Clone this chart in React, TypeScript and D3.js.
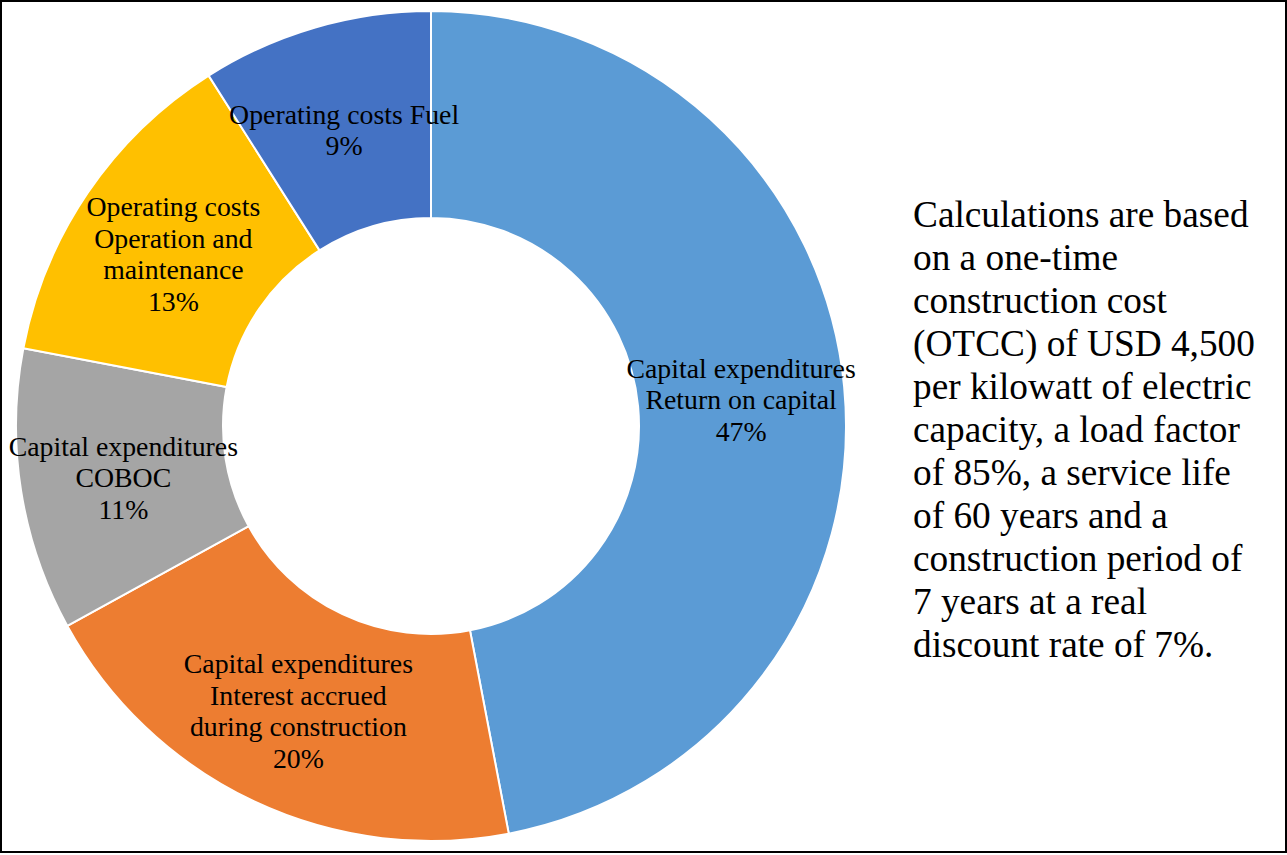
import React from "react";
import * as d3 from "d3";

const categories: string[][] = [
  ["Capital expenditures", "Return on capital"],
  ["Capital expenditures", "Interest accrued", "during construction"],
  ["Capital expenditures", "COBOC"],
  ["Operating costs", "Operation and", "maintenance"],
  ["Operating costs Fuel"],
];
const values: number[] = [47, 20, 11, 13, 9];
const colors: string[] = ["#5B9BD5", "#ED7D31", "#A5A5A5", "#FFC000", "#4472C4"];
const noteLines: string[] = [
  "Calculations are based",
  "on a one-time",
  "construction cost",
  "(OTCC) of USD 4,500",
  "per kilowatt of electric",
  "capacity, a load factor",
  "of 85%, a service life",
  "of 60 years and a",
  "construction period of",
  "7 years at a real",
  "discount rate of 7%.",
];

const W = 1287;
const H = 855;
const CX = 431;
const CY = 426;
const R_OUT = 415;
const R_IN = 208;
const FONT = "'Liberation Serif', 'Times New Roman', serif";

export default function App() {
  const total = d3.sum(values);
  const pie = d3
    .pie<number>()
    .sort(null)
    .value((d) => d)
    .startAngle(0)
    .endAngle(2 * Math.PI);
  const arcs = pie(values);
  const arc = d3.arc<d3.PieArcDatum<number>>().innerRadius(R_IN).outerRadius(R_OUT);
  const fmt = d3.format(".0%");
  const lh = 31.7;

  return (
    <svg
      width={W}
      height={H}
      style={{ position: "absolute", left: 0, top: 0, background: "#fff" }}
    >
      <rect x={1} y={1} width={1285} height={851} fill="#fff" stroke="#000" strokeWidth={2} />
      <g transform={`translate(${CX},${CY})`}>
        {arcs.map((a, i) => (
          <path key={i} d={arc(a) || ""} fill={colors[i]} stroke="#fff" strokeWidth={2} />
        ))}
        {arcs.map((a, i) => {
          const [x, y] = arc.centroid(a);
          const lines = [...categories[i], fmt(values[i] / total)];
          const n = lines.length;
          return (
            <text
              key={"t" + i}
              x={x}
              y={y}
              textAnchor="middle"
              fontFamily={FONT}
              fontSize={27.8}
              fill="#000"
            >
              {lines.map((l, j) => (
                <tspan key={j} x={x} y={y + (j - (n - 1) / 2) * lh + 12.5}>
                  {l}
                </tspan>
              ))}
            </text>
          );
        })}
      </g>
      <text fontFamily={FONT} fontSize={37.3} fill="#000">
        {noteLines.map((l, j) => (
          <tspan key={j} x={913} y={227.3 + j * 42.94}>
            {l}
          </tspan>
        ))}
      </text>
    </svg>
  );
}
